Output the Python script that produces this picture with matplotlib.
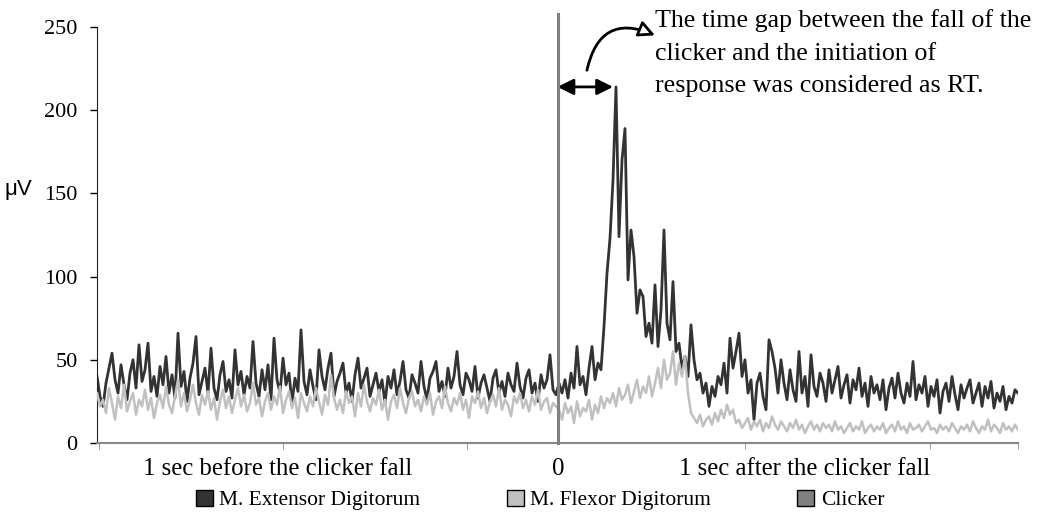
import matplotlib.pyplot as plt
import numpy as np
from matplotlib.patches import Patch

# EMG amplitude (uV), one sample every ~3 px of the original chart
ext_before = [40, 28, 22, 36, 45, 54, 38, 30, 47, 35, 26, 42, 50, 33,
              59, 37, 44, 60, 31, 40, 28, 46, 35, 52, 30, 41, 27, 66,
              34, 43, 25, 39, 48, 64, 29, 37, 45, 30, 57, 33, 26, 41,
              49, 31, 38, 27, 56, 35, 43, 29, 40, 33, 61, 36, 28, 44,
              32, 47, 26, 63, 38, 30, 51, 35, 42, 24, 39, 31, 68, 37,
              29, 44, 34, 26, 56, 40, 32, 45, 54, 28, 37, 42, 48, 30,
              36, 25, 41, 51, 33, 39, 45, 28, 35, 42, 31, 38, 24, 40,
              33, 44, 29, 37, 49, 32, 27, 41, 36, 30, 49, 34, 26, 39,
              43, 49, 31, 37, 28, 45, 33, 40, 55, 35, 29, 42, 38, 31,
              46, 27, 36, 41, 33, 25, 39, 44, 30, 37, 28, 42, 35, 31,
              48, 34, 27, 39, 44, 30, 36, 25, 41, 33, 38, 53, 32, 29]
ext_after = [36, 30, 38, 27, 42, 33, 58, 35, 40, 29, 45, 58, 38, 48, 44,
             70, 102, 123, 158, 214, 124, 170, 189, 98, 128, 112, 78, 92, 88, 64,
             72, 60, 95, 58, 80, 128, 72, 62, 97, 55, 60, 45, 52, 40, 71,
             50, 38, 42, 30, 36, 22, 34, 28, 40, 35, 48, 30, 63, 45, 55,
             66, 40, 50, 30, 38, 14, 36, 42, 28, 20, 62, 55, 45, 30, 50,
             36, 26, 44, 32, 25, 55, 30, 40, 22, 53, 34, 28, 42, 36, 25,
             44, 30, 38, 46, 27, 35, 41, 24, 38, 32, 45, 28, 36, 22, 40,
             30, 35, 26, 38, 20, 33, 39, 27, 42, 30, 24, 36, 28, 49, 26,
             35, 30, 40, 22, 34, 28, 38, 18, 31, 36, 25, 40, 29, 20, 35,
             27, 33, 38, 24, 30, 36, 22, 34, 27, 37, 21, 30, 25, 34, 20,
             28, 24, 32, 30]

flex_before = [30, 22, 26, 18, 33, 24, 14, 28, 21, 35, 19, 25, 30, 17,
               26, 22, 32, 20, 27, 15, 24, 29, 21, 34, 23, 18, 28, 38,
               22, 30, 19, 26, 35, 24, 17, 29, 23, 31, 20, 27, 14, 25,
               32, 21, 28, 18, 26, 33, 22, 29, 19, 24, 36, 23, 27, 16,
               25, 30, 20, 28, 23, 34, 18, 26, 31, 21, 27, 15, 30, 24,
               19, 28, 22, 33, 25, 17, 29, 23, 41, 27, 20, 26, 18, 31,
               24, 28, 16, 30, 22, 35, 25, 19, 27, 23, 32, 20, 26, 14,
               25, 29, 21, 33, 24, 18, 27, 31, 22, 26, 19, 28, 23, 30,
               17, 25, 28, 21, 34, 24, 19, 27, 23, 30, 20, 26, 15, 28,
               24, 31, 21, 27, 18, 25, 29, 22, 33, 20, 26, 23, 16, 28,
               24, 30, 21, 26, 19, 28, 23, 32, 20, 25, 27, 18, 24, 22]
flex_after = [20, 14, 24, 18, 22, 12, 25, 16, 21, 19, 26, 14, 23, 18, 28,
              21, 27, 24, 30, 22, 33, 26, 29, 35, 24, 31, 38, 27, 34, 30,
              40, 28, 36, 45, 33, 50, 38, 42, 55, 35, 48, 40, 52, 30, 18,
              15, 12, 17, 10, 14, 16, 11, 18, 13, 20, 15, 23, 17, 20, 12,
              14, 9, 12, 15, 8, 13, 10, 14, 7, 12, 9, 16, 11, 8, 13,
              10, 7, 12, 9, 14, 8, 11, 6, 10, 13, 8, 11, 7, 12, 9,
              11, 7, 13, 8, 10, 6, 9, 12, 7, 10, 8, 13, 6, 9, 11,
              7, 10, 8, 12, 6, 9, 11, 7, 13, 8, 10, 6, 12, 8, 9,
              11, 7, 10, 13, 8, 9, 6, 11, 8, 10, 7, 12, 9, 6, 10,
              8, 11, 7, 13, 9, 6, 10, 8, 14, 7, 11, 9, 6, 12, 8, 10, 7, 11, 8]

extensor = ext_before + ext_after
flexor = flex_before + flex_after
clicker_x = [153.5, 153.5]
clicker_y = [0, 258]

x_labels = ["1 sec before the clicker fall", "0", "1 sec after the clicker fall"]
x_label_pos = [60.3, 153.7, 236]
x_minor = [0.7, 62, 123.3, 216, 277.7, 307]

plt.rcParams['font.family'] = "Liberation Serif"

fig = plt.figure(figsize=(10.41, 5.17), dpi=100)
ax = fig.add_axes([97/1041, 74/517, 921/1041, 416/517])

x = np.arange(len(extensor))
ax.plot(x, extensor, color="#333333", lw=2.0, zorder=2)
ax.plot(x, flexor, color="#c0c0c0", lw=1.8, zorder=3)
ax.plot(clicker_x, clicker_y, color="#808080", lw=2.2, clip_on=False, zorder=4)

ax.set_xlim(0, 307)
ax.set_ylim(0, 250)
ax.set_yticks(np.arange(0, 251, 50))
ax.tick_params(axis='y', labelsize=16, length=5, width=1, pad=9, direction='out')
ax.set_xticks(x_label_pos)
ax.set_xticklabels(x_labels)
ax.set_xticks(x_minor, minor=True)
ax.tick_params(axis='x', which='major', length=0, labelsize=17.8, pad=11)
ax.tick_params(axis='x', which='minor', length=4, color="#888888", direction='out')

for s in ['top', 'right']:
    ax.spines[s].set_visible(False)
ax.spines['left'].set_color("#222222")
ax.spines['bottom'].set_color("#888888")
ax.spines['bottom'].set_linewidth(1.5)

fig.text(5/1041, 1 - 190/517, "μV", fontsize=16, family="Liberation Sans",
         ha='left', va='center')

# RT double arrow
ax.annotate("", xy=(153.5, 214), xytext=(172, 214),
            arrowprops=dict(arrowstyle='<|-|>', color='black', lw=2, mutation_scale=24,
                            shrinkA=0, shrinkB=0))
# curved pointer to the text
ax.annotate("", xy=(186, 245), xytext=(163.3, 224), annotation_clip=False,
            arrowprops=dict(arrowstyle='-|>', connectionstyle='arc3,rad=-0.6',
                            lw=2, fc='white', ec='black', mutation_scale=24,
                            shrinkA=0, shrinkB=0))
fig.text(655/1041, 1 - 9/517,
         "The time gap between the fall of the\nclicker and the initiation of\nresponse was considered as RT.",
         fontsize=18.7, ha='left', va='top', linespacing=1.62)

handles = [Patch(fc="#333333", ec="black"), Patch(fc="#c0c0c0", ec="black"),
           Patch(fc="#808080", ec="black")]
fig.legend(handles, ["M. Extensor Digitorum", "M. Flexor Digitorum", "Clicker"],
           loc='center', bbox_to_anchor=(540/1041, 17/517), ncol=3, frameon=False,
           fontsize=15.5, handlelength=0.8, handleheight=0.8, handletextpad=0.3,
           columnspacing=4.0, borderaxespad=0)

fig.savefig("out.png", dpi=100)
